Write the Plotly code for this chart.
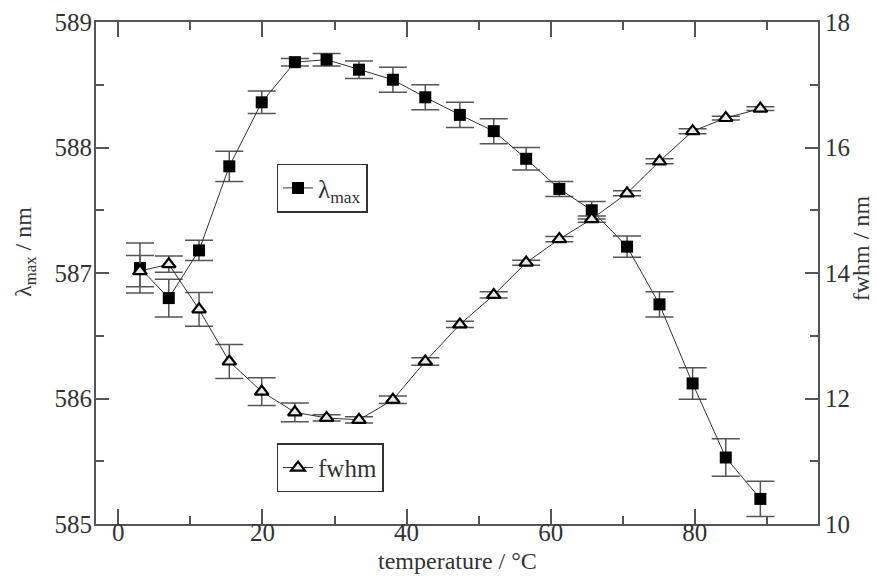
import plotly.graph_objects as go

temperature = [3.0, 7.0, 11.2, 15.4, 19.9, 24.5, 28.9, 33.4, 38.1, 42.6,
               47.4, 52.1, 56.6, 61.2, 65.7, 70.6, 75.1, 79.7, 84.3, 89.1]
lambda_max = [587.04, 586.80, 587.18, 587.85, 588.36, 588.68, 588.70, 588.62, 588.54, 588.40,
              588.26, 588.13, 587.91, 587.67, 587.50, 587.21, 586.75, 586.12, 585.53, 585.20]
lambda_err = [0.20, 0.15, 0.08, 0.12, 0.09, 0.03, 0.05, 0.07, 0.10, 0.10,
              0.10, 0.10, 0.09, 0.06, 0.07, 0.085, 0.10, 0.125, 0.15, 0.14]
fwhm = [14.03, 14.14, 13.42, 12.59, 12.11, 11.78, 11.69, 11.66, 11.98, 12.59,
        13.18, 13.65, 14.165, 14.54, 14.86, 15.27, 15.78, 16.26, 16.47, 16.62]
fwhm_err = [0.25, 0.13, 0.27, 0.27, 0.22, 0.15, 0.05, 0.05, 0.06, 0.06,
            0.05, 0.05, 0.04, 0.04, 0.05, 0.04, 0.04, 0.04, 0.03, 0.03]

x_title = "temperature / °C"
y_title = "λ<sub>max</sub> / nm"
y2_title = "fwhm / nm"

FONT = "Liberation Serif"
AX = "#555555"
TXT = "#333333"

fig = go.Figure()
fig.add_trace(go.Scatter(
    x=temperature, y=lambda_max, name="λ<sub>max</sub>", mode="lines+markers",
    line=dict(color="#333333", width=1),
    marker=dict(symbol="square", size=12, color="black"),
    error_y=dict(type="data", array=lambda_err, visible=True, color="#555555", thickness=1.5, width=14),
    legend="legend", yaxis="y"))
fig.add_trace(go.Scatter(
    x=temperature, y=fwhm, name="fwhm", mode="lines+markers",
    line=dict(color="#333333", width=1),
    marker=dict(symbol="triangle-up", size=12, color="#e8e8e8", line=dict(color="black", width=2.2)),
    error_y=dict(type="data", array=fwhm_err, visible=True, color="#555555", thickness=1.5, width=14),
    legend="legend2", yaxis="y2"))

tf = dict(family=FONT, size=25, color=TXT)
titlefont = dict(family=FONT, size=24, color=TXT)
fig.update_layout(
    width=877, height=577,
    margin=dict(l=96, r=59, t=22, b=53),
    paper_bgcolor="white", plot_bgcolor="white",
    font=dict(family=FONT, size=24, color=TXT),
    showlegend=True,
    xaxis=dict(range=[-3.1, 97.1], dtick=20, tick0=0, ticks="inside", ticklen=15, tickwidth=1.5,
               tickcolor=AX, showline=True, linecolor=AX, linewidth=2, mirror="ticks",
               showgrid=False, zeroline=False, automargin=False, ticklabelstandoff=-15,
               minor=dict(dtick=10, ticks="inside", ticklen=8, tickcolor=AX, tickwidth=1.5),
               tickfont=tf),
    yaxis=dict(range=[585, 589], dtick=1, ticks="inside", ticklen=13, tickwidth=1.5,
               tickcolor=AX, showline=True, linecolor=AX, linewidth=2,
               showgrid=False, zeroline=False, automargin=False, ticklabelstandoff=-3,
               minor=dict(dtick=0.5, ticks="inside", ticklen=8, tickcolor=AX, tickwidth=1.5),
               tickfont=tf),
    yaxis2=dict(range=[10, 18], dtick=2, ticks="inside", ticklen=13, tickwidth=1.5,
                tickcolor=AX, showline=True, linecolor=AX, linewidth=2,
                overlaying="y", side="right", showgrid=False, zeroline=False, automargin=False,
                minor=dict(dtick=1, ticks="inside", ticklen=8, tickcolor=AX, tickwidth=1.5),
                tickfont=tf),
    legend=dict(x=0.25, y=0.669, xanchor="left", yanchor="middle", bgcolor="white",
                bordercolor="#333333", borderwidth=1.5, font=dict(family=FONT, size=25, color=TXT)),
    legend2=dict(x=0.25, y=0.112, xanchor="left", yanchor="middle", bgcolor="white",
                 bordercolor="#333333", borderwidth=1.5, font=dict(family=FONT, size=25, color=TXT)),
    annotations=[
        dict(text=x_title, xref="paper", yref="paper", x=0.5, y=-0.1036,
             xanchor="center", yanchor="bottom", showarrow=False, font=titlefont),
        dict(text=y_title, xref="paper", yref="paper", x=-0.0983, y=0.542,
             xanchor="center", yanchor="middle", textangle=-90, showarrow=False, font=titlefont),
        dict(text=y2_title, xref="paper", yref="paper", x=1.06, y=0.55,
             xanchor="center", yanchor="middle", textangle=-90, showarrow=False, font=titlefont),
    ],
)

fig.write_html("out.html")
